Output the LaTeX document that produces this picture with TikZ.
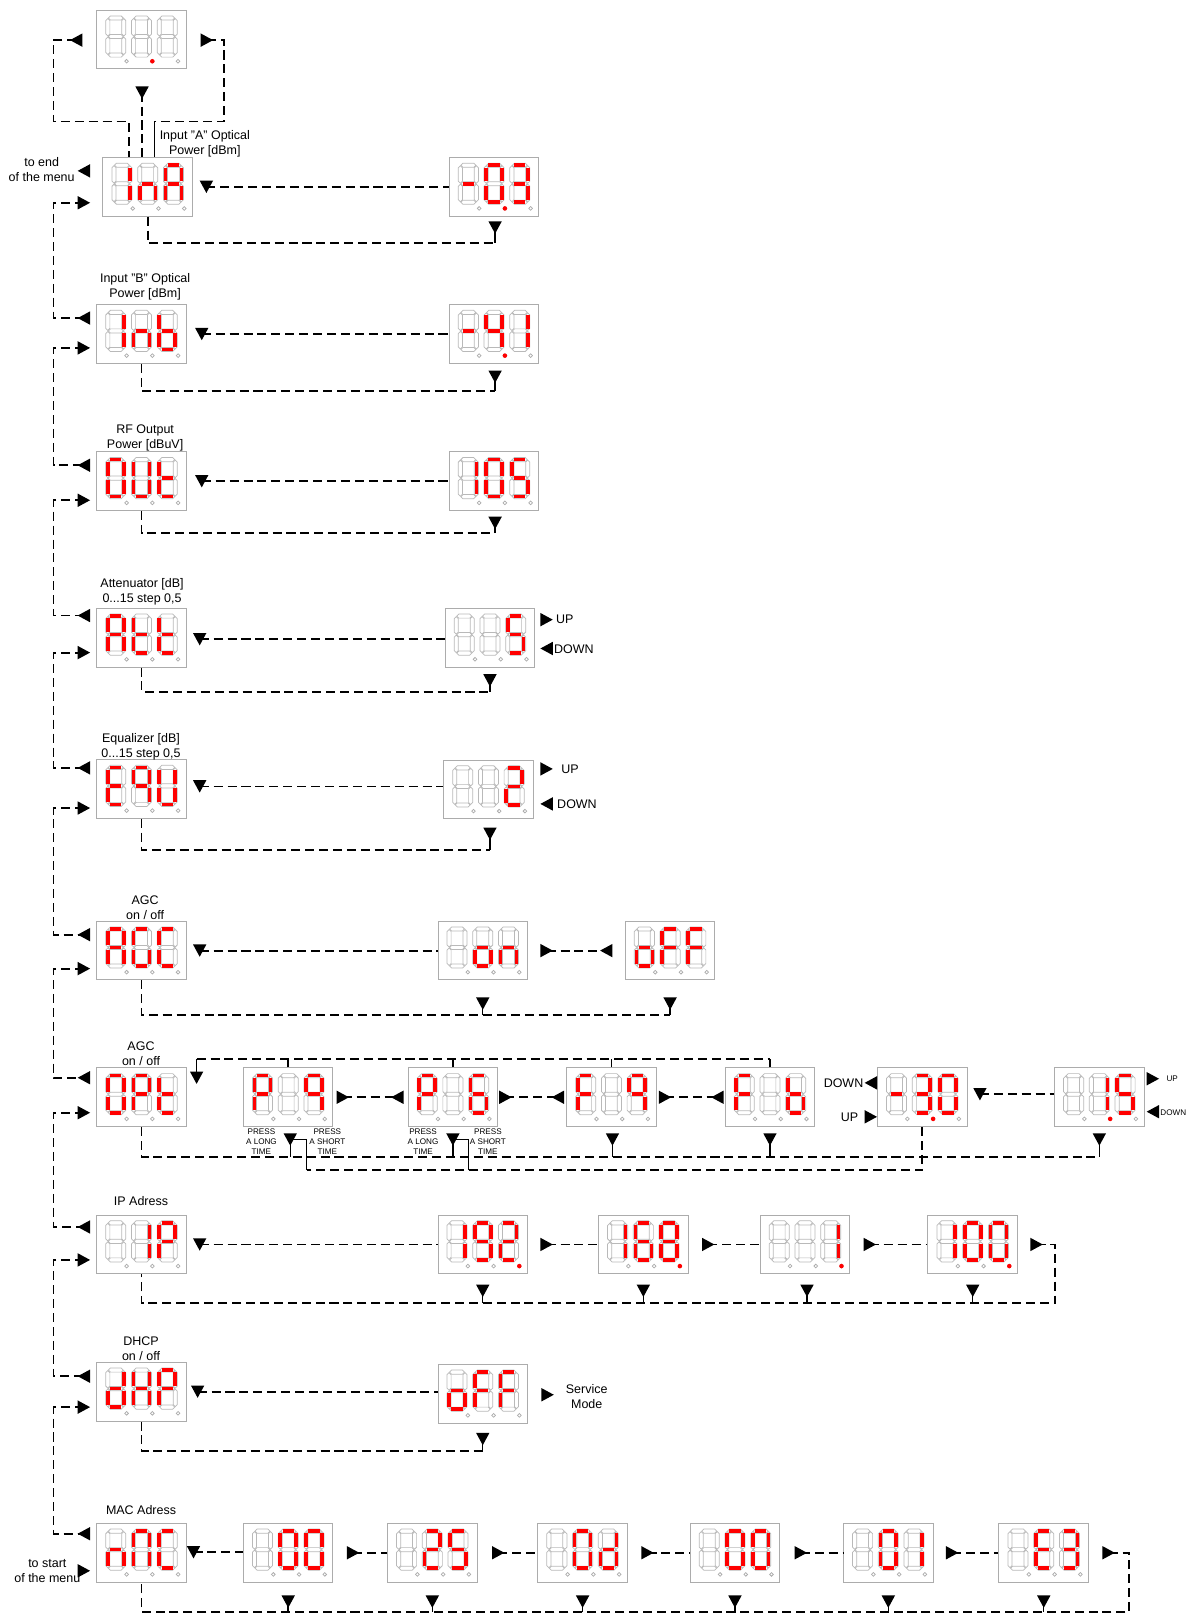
\documentclass[tikz,border=0pt]{standalone}
\usepackage{fontspec}
\setmainfont{Liberation Sans}
\usetikzlibrary{calc}

% seven segment outlines, digit centre at origin (y grows downwards)
\newcommand\sga{(-7.25,-18) -- (-5.25,-20) -- (5.25,-20) -- (7.25,-18) -- (5.25,-16) -- (-5.25,-16) -- cycle}
\newcommand\sgg{(-7.25,0) -- (-5.25,-2) -- (5.25,-2) -- (7.25,0) -- (5.25,2) -- (-5.25,2) -- cycle}
\newcommand\sgd{(-7.25,18) -- (-5.25,16) -- (5.25,16) -- (7.25,18) -- (5.25,20) -- (-5.25,20) -- cycle}
\newcommand\sgf{(-7.75,-17.5) -- (-5.75,-15.5) -- (-5.75,-2.5) -- (-7.75,-0.5) -- (-9.75,-2.5) -- (-9.75,-15.5) -- cycle}
\newcommand\sgb{(7.75,-17.5) -- (9.75,-15.5) -- (9.75,-2.5) -- (7.75,-0.5) -- (5.75,-2.5) -- (5.75,-15.5) -- cycle}
\newcommand\sge{(-7.75,0.5) -- (-5.75,2.5) -- (-5.75,15.5) -- (-7.75,17.5) -- (-9.75,15.5) -- (-9.75,2.5) -- cycle}
\newcommand\sgc{(7.75,0.5) -- (9.75,2.5) -- (9.75,15.5) -- (7.75,17.5) -- (5.75,15.5) -- (5.75,2.5) -- cycle}
% lit bars
\newcommand\sla{(-5.5,-18) -- (5.5,-18)}
\newcommand\slg{(-5.5,0) -- (5.5,0)}
\newcommand\sld{(-5.5,18) -- (5.5,18)}
\newcommand\slf{(-7.75,-15.75) -- (-7.75,-2.25)}
\newcommand\slb{(7.75,-15.75) -- (7.75,-2.25)}
\newcommand\sle{(-7.75,2.25) -- (-7.75,15.75)}
\newcommand\slc{(7.75,2.25) -- (7.75,15.75)}
\newcommand\slz{(0,0)}

\newcommand\dseg[2]{\expandafter\dsegx\csname #2\endcsname{#1}}
\newcommand\dsegx[2]{\path[#2] #1;}
\newcommand\segdigit[2]{%
  \begin{scope}[shift={(#1,-3)}]
    \foreach \s in {a,b,c,d,e,f,g} {\dseg{segoff}{sg\s}}
    \foreach \s in {#2} {\dseg{segon}{sl\s}}
  \end{scope}}
% name, centre, three digits, lit dots
\newcommand\dpanel[6]{%
  \node[panel] (#1) at (#2) {};
  \begin{scope}[shift={(#2)}]
    \segdigit{-25}{#3}\segdigit{0}{#4}\segdigit{25}{#5}
    \foreach \k in {1,2,3} \draw[dotoff] (-39.5+25*\k,21) circle (1.8);
    \foreach \k in {#6} {\ifnum\k>0 \fill[red] (-39.5+25*\k,21) circle (2.2);\fi}
  \end{scope}}

\tikzset{
  panel/.style={draw=gray!65, line width=0.55pt, fill=white,
    minimum width=1.74cm, minimum height=1.14cm, inner sep=0pt},
  segoff/.style={draw=gray!55, line width=0.4pt},
  segon/.style={draw=red, line width=2pt},
  dotoff/.style={draw=gray!65, line width=0.4pt},
  dashline/.style={dash pattern=on 5pt off 2.7pt, line width=1pt},
  link/.style={line width=0.8pt},
  lbl/.style={font=\fontsize{6.9}{8.3}\selectfont, align=center, inner sep=0pt},
  presslbl/.style={font=\fontsize{4.5}{5.5}\selectfont, align=center, inner sep=0pt},
  pics/tr/.style={code={\fill (-6,-6.5) -- (6,0) -- (-6,6.5) -- cycle;}},
  pics/tl/.style={code={\fill (6,-6.5) -- (-6,0) -- (6,6.5) -- cycle;}},
  pics/td/.style={code={\fill (-6.5,-6) -- (6.5,-6) -- (0,6) -- cycle;}},
}

\begin{document}
\begin{tikzpicture}[x=0.02cm, y=-0.02cm]
\useasboundingbox (0,0) rectangle (1157,1568);
\coordinate (lane) at (52,0);

% Displays
\dpanel{top}{137.5,38.5}{z}{z}{z}{2}
\dpanel{ina}{143.5,181.5}{b,c}{c,e,g}{a,b,c,e,f,g}{0}
\dpanel{inaval}{480,181.5}{g}{a,b,c,d,e,f}{a,b,c,d,g}{2}
\dpanel{inb}{137.5,324.5}{b,c}{c,e,g}{c,d,e,f,g}{0}
\dpanel{inbval}{480,324.5}{g}{b,c,f,g}{b,c}{2}
\dpanel{out}{137.5,467.5}{a,b,c,d,e,f}{b,c,d,e,f}{d,e,f,g}{0}
\dpanel{outval}{480,467.5}{b,c}{a,b,c,d,e,f}{a,c,d,f,g}{0}
\dpanel{att}{137.5,619.5}{a,b,c,e,f,g}{d,e,f,g}{d,e,f,g}{0}
\dpanel{attval}{476,619.5}{z}{z}{a,c,d,f,g}{0}
\dpanel{equ}{137.5,766.5}{a,d,e,f,g}{a,b,c,f,g}{b,c,d,e,f}{0}
\dpanel{equval}{474.5,767}{z}{z}{a,b,d,e,g}{0}
\dpanel{agc}{137.5,923.5}{a,b,c,e,f,g}{a,c,d,e,f}{a,d,e,f}{0}
\dpanel{agcon}{469,923.5}{z}{c,d,e,g}{c,e,g}{0}
\dpanel{agcoff}{651,923.5}{c,d,e,g}{a,e,f,g}{a,e,f,g}{0}
\dpanel{opt}{137.5,1066}{a,b,c,d,e,f}{a,b,e,f,g}{d,e,f,g}{0}
\dpanel{pa}{280,1066}{a,b,e,f,g}{z}{a,b,c,f,g}{0}
\dpanel{pb}{440,1066}{a,b,e,f,g}{z}{a,c,d,e,f,g}{0}
\dpanel{fa}{594,1066}{a,e,f,g}{z}{a,b,c,f,g}{0}
\dpanel{fb}{748,1066}{a,e,f,g}{z}{c,d,e,f,g}{0}
\dpanel{lvl}{896,1066}{g}{a,b,c,d,g}{a,b,c,d,e,f}{2}
\dpanel{lvlval}{1068,1066}{z}{b,c}{a,c,d,f,g}{2}
\dpanel{ip}{137.5,1209}{z}{b,c}{a,b,e,f,g}{0}
\dpanel{ipa}{469,1209}{b,c}{a,b,c,d,f,g}{a,b,d,e,g}{3}
\dpanel{ipb}{625,1209}{b,c}{a,c,d,e,f,g}{a,b,c,d,e,f,g}{3}
\dpanel{ipc}{782,1209}{z}{z}{b,c}{3}
\dpanel{ipd}{945,1209}{b,c}{a,b,c,d,e,f}{a,b,c,d,e,f}{3}
\dpanel{dhcp}{137.5,1352}{b,c,d,e,g}{b,c,e,f,g}{a,b,e,f,g}{0}
\dpanel{dhcpoff}{469,1354}{c,d,e,g}{a,e,f,g}{a,e,f,g}{0}
\dpanel{mac}{137.5,1508.5}{c,e,g}{a,b,c,e,f}{a,d,e,f}{0}
\dpanel{maca}{280,1508.5}{z}{a,b,c,d,e,f}{a,b,c,d,e,f}{0}
\dpanel{macb}{420,1508.5}{z}{a,b,d,e,g}{a,c,d,f,g}{0}
\dpanel{macc}{566,1508.5}{z}{a,b,c,d,e,f}{b,c,d,e,g}{0}
\dpanel{macd}{714,1508.5}{z}{a,b,c,d,e,f}{a,b,c,d,e,f}{0}
\dpanel{mace}{863,1508.5}{z}{a,b,c,d,e,f}{b,c}{0}
\dpanel{macf}{1014,1508.5}{z}{a,d,e,f,g}{a,b,c,d,g}{0}

% Markers
\coordinate (top-l) at (74,39);
\coordinate (top-r) at (201,39);
\coordinate (top-d) at (138,90);
\foreach \nm/\yp/\yn in {ina/166/197, inb/309/338, out/452/486, att/598/634,
  equ/746/785, agc/908/941, opt/1047/1081, ip/1192/1224, dhcp/1337/1367, mac/1490/1526}
{\coordinate (\nm-pv) at (81.5,\yp); \coordinate (\nm-nx) at (81.5,\yn);}
\coordinate (ina-sel) at (200.5,181.5);
\coordinate (inb-sel) at (196,324.5);
\coordinate (out-sel) at (196,467.5);
\coordinate (att-sel) at (194,621);
\coordinate (equ-sel) at (194,764);
\coordinate (agc-sel) at (194,923.5);
\coordinate (lvl-sel) at (952,1063);
\coordinate (ip-sel) at (194,1209);
\coordinate (dhcp-sel) at (192,1352);
\coordinate (mac-sel) at (188,1508);
\coordinate (opt-d) at (191,1047);
\coordinate (inaval-ok) at (481,221);
\coordinate (inbval-ok) at (481,366);
\coordinate (outval-ok) at (481,508);
\coordinate (attval-ok) at (476,661);
\coordinate (equval-ok) at (476,810);
\coordinate (agcon-ok) at (469,975);
\coordinate (agcoff-ok) at (651,975);
\foreach \nm/\xx in {pa/282, pb/440, fa/595, fb/748, lvlval/1068}
  \coordinate (\nm-ok) at (\xx,1107);
\foreach \nm/\xx in {ipa/469, ipb/625, ipc/784, ipd/945}
  \coordinate (\nm-ok) at (\xx,1254);
\coordinate (dhcpoff-ok) at (469,1398);
\foreach \nm/\xx in {maca/280, macb/420, macc/566, macd/714, mace/863, macf/1014}
  \coordinate (\nm-ok) at (\xx,1556);
\coordinate (att-up) at (531,602);
\coordinate (att-dn) at (531,630);
\coordinate (equ-up) at (531,747);
\coordinate (equ-dn) at (531,781);
\coordinate (agcon-r) at (531,923.5);
\coordinate (agcoff-l) at (589,923.5);
\coordinate (pa-r) at (333,1066);
\coordinate (pb-l) at (386,1066);
\coordinate (pb-r) at (491,1066);
\coordinate (fa-l) at (542,1066);
\coordinate (fa-r) at (646,1066);
\coordinate (fb-l) at (697,1066);
\coordinate (lvl-dn) at (846,1052);
\coordinate (lvl-up) at (846,1085);
\coordinate (lvlval-up) at (1120,1048);
\coordinate (lvlval-dn) at (1120,1080);
\coordinate (ipa-r) at (531,1209);
\coordinate (ipb-r) at (688,1209);
\coordinate (ipc-r) at (845,1209);
\coordinate (ipd-r) at (1007,1209);
\coordinate (dhcp-svc) at (532,1355);
\foreach \nm/\xx in {maca/343, macb/484, macc/629, macd/778, mace/925, macf/1077}
  \coordinate (\nm-r) at (\xx,1508.5);

% Buses
\coordinate (top-bus) at (0,118);
\coordinate (top-rbus) at (218,118);
\coordinate (ina-up) at ($(ina.north)+(-18.5,0)$);
\coordinate (ina-bk) at ($(ina.north)+(6.5,0)$);
\coordinate (opt-bus) at (191,1029);
\coordinate (press-bus) at (298,1137);
\coordinate (press-busb) at (455,1137);
\coordinate (ip-bus) at (1025,1266);
\coordinate (mac-bus) at (1097,1566);

% Top display
\draw[dashline] (top-l) -| (lane |- top-bus) -| (ina-up);
\draw[dashline] (top-r) -| (top-rbus) -- (ina-bk |- top-bus);
\draw[link] (ina-bk |- top-bus) -- (ina-bk);
\draw[dashline] (top-d) -- (top-d |- ina.north);

% Menu chain
\foreach \p/\q in {ina/inb, inb/out, out/att, att/equ, equ/agc, agc/opt, opt/ip, ip/dhcp, dhcp/mac}
  \draw[dashline] (\p-nx) -- (\p-nx -| lane) |- (\q-pv);

% Value lines
\foreach \nm/\val in {ina/inaval, inb/inbval, out/outval, att/attval, equ/equval,
  agc/agcon, lvl/lvlval, ip/ipa, dhcp/dhcpoff, mac/maca}
  \draw[dashline] (\nm-sel) -- (\val.west |- \nm-sel);
\foreach \nm/\val/\bus in {ina/inaval/236, inb/inbval/380, out/outval/518,
  att/attval/672, equ/equval/826, dhcp/dhcpoff/1410}
{\draw[dashline] (\nm.south) |- (\val-ok |- 0,\bus);
 \draw[link] (\val-ok |- 0,\bus) -- (\val-ok);}

% AGC
\draw[dashline] (agcon-r) -- (agcoff-l);
\draw[dashline] (agc.south) |- (agcoff-ok |- 0,986);
\draw[link] (agcoff-ok |- 0,986) -- (agcoff-ok);
\draw[link] (agcon-ok |- 0,986) -- (agcon-ok);

% OPt
\draw[dashline] (opt-bus) -- (opt-bus -| fb.north);
\draw[link] (opt-bus) -- (opt-d);
\foreach \nm in {pa,pb,fa,fb} \draw[link] (\nm.north) -- (\nm.north |- opt-bus);
\draw[dashline] (pa-r) -- (pb-l);
\draw[dashline] (pb-r) -- (fa-l);
\draw[dashline] (fa-r) -- (fb-l);
\draw[dashline] (opt.south) |- (lvlval-ok |- 0,1124);
\foreach \nm in {pa,pb,fa,fb,lvlval} \draw[link] (\nm-ok) -- (\nm-ok |- 0,1124);
\draw[dashline] (lvl.south) |- (press-bus);
\draw[link] (press-bus) |- (pa-ok);
\draw[link] (press-busb) |- (pb-ok);

% IP
\draw[dashline] (ipa-r) -- (ipb.west |- ipa-r);
\draw[dashline] (ipb-r) -- (ipc.west |- ipb-r);
\draw[dashline] (ipc-r) -- (ipd.west |- ipc-r);
\draw[dashline] (ipd-r) -| (ip-bus) -| (ip.south);
\foreach \nm in {ipa,ipb,ipc,ipd} \draw[link] (\nm-ok) -- (\nm-ok |- ip-bus);

% MAC
\foreach \p/\q in {maca/macb, macb/macc, macc/macd, macd/mace, mace/macf}
  \draw[dashline] (\p-r) -- (\q.west |- \p-r);
\draw[dashline] (macf-r) -| (mac-bus) -| (mac.south);
\foreach \nm in {maca,macb,macc,macd,mace,macf} \draw[link] (\nm-ok) -- (\nm-ok |- mac-bus);

% Triangles
\foreach \m in {top-l, ina-pv, inb-pv, out-pv, att-pv, equ-pv, agc-pv, opt-pv, ip-pv,
  dhcp-pv, mac-pv, att-dn, equ-dn, agcoff-l, pb-l, fa-l, fb-l, lvl-dn, lvlval-dn}
  \pic at (\m) {tl};
\foreach \m in {top-r, ina-nx, inb-nx, out-nx, att-nx, equ-nx, agc-nx, opt-nx, ip-nx,
  dhcp-nx, mac-nx, att-up, equ-up, agcon-r, pa-r, pb-r, fa-r, lvl-up, lvlval-up,
  ipa-r, ipb-r, ipc-r, ipd-r, dhcp-svc, maca-r, macb-r, macc-r, macd-r, mace-r, macf-r}
  \pic at (\m) {tr};
\foreach \m in {top-d, opt-d, ina-sel, inb-sel, out-sel, att-sel, equ-sel, agc-sel,
  lvl-sel, ip-sel, dhcp-sel, mac-sel, inaval-ok, inbval-ok, outval-ok, attval-ok, equval-ok,
  agcon-ok, agcoff-ok, pa-ok, pb-ok, fa-ok, fb-ok, lvlval-ok, ipa-ok, ipb-ok,
  ipc-ok, ipd-ok, dhcpoff-ok, maca-ok, macb-ok, macc-ok, macd-ok, mace-ok, macf-ok}
  \pic at (\m) {td};

% Labels
\node[lbl] (end-lbl) at (40.5,164.5) {to end\\of the menu};
\node[lbl] (ina-lbl) at (199,140) {Input "A" Optical\\Power [dBm]};
\node[lbl] (inb-lbl) at (141,279) {Input "B" Optical\\Power [dBm]};
\node[lbl] (out-lbl) at (141,425.5) {RF Output\\Power [dBuV]};
\node[lbl] (att-lbl) at (138,574.5) {Attenuator [dB]\\0...15 step 0,5};
\node[lbl] (equ-lbl) at (137,725.5) {Equalizer [dB]\\0...15 step 0,5};
\node[lbl] (agc-lbl) at (141,882) {AGC\\on / off};
\node[lbl] (opt-lbl) at (137,1024) {AGC\\on / off};
\node[lbl] (ip-lbl) at (137,1167) {IP Adress};
\node[lbl] (dhcp-lbl) at (137,1310.5) {DHCP\\on / off};
\node[lbl] (mac-lbl) at (137,1467) {MAC Adress};
\node[lbl] (start-lbl) at (46,1526.5) {to start\\of the menu};
\node[lbl] (svc-lbl) at (570,1357) {Service\\Mode};
\node[lbl, anchor=west] (att-uplbl) at (540,602) {UP};
\node[lbl, anchor=west] (att-dnlbl) at (538,631) {DOWN};
\node[lbl, anchor=west] (equ-uplbl) at (545,747) {UP};
\node[lbl, anchor=west] (equ-dnlbl) at (541,781) {DOWN};
\node[lbl, anchor=east] (lvl-dnlbl) at (839,1052) {DOWN};
\node[lbl, anchor=east] (lvl-uplbl) at (834,1085) {UP};
\node[presslbl, anchor=west] (val-uplbl) at (1133,1048) {UP};
\node[presslbl, anchor=west] (val-dnlbl) at (1127,1081) {DOWN};
\node[presslbl] (pa-long) at (254,1109) {PRESS\\A LONG\\TIME};
\node[presslbl] (pa-short) at (318,1109) {PRESS\\A SHORT\\TIME};
\node[presslbl] (pb-long) at (411,1109) {PRESS\\A LONG\\TIME};
\node[presslbl] (pb-short) at (474,1109) {PRESS\\A SHORT\\TIME};
\end{tikzpicture}
\end{document}
